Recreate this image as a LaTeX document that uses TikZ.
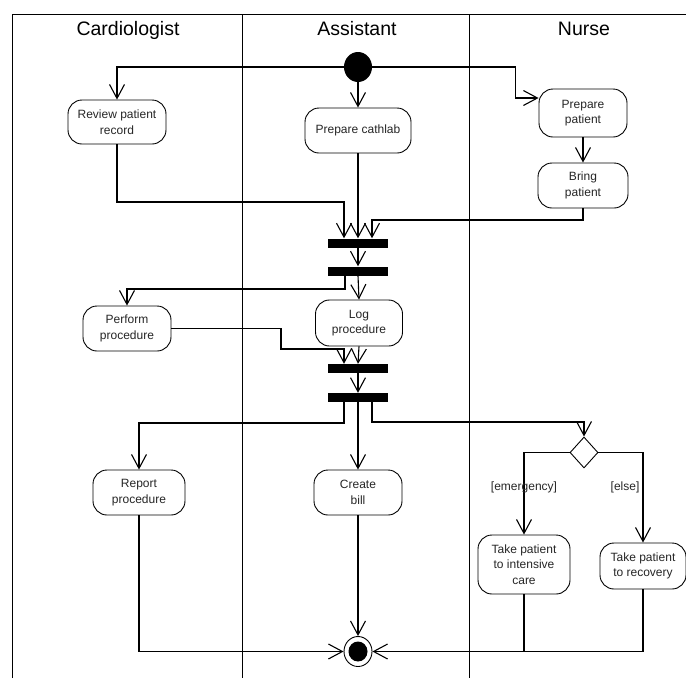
\documentclass[tikz,border=0pt]{standalone}
\usepackage{fontspec}
\setmainfont{Liberation Sans}
\usetikzlibrary{arrows.meta,shapes.geometric,calc}

\begin{document}
\begin{tikzpicture}[x=1pt,y=-1pt,
  lane/.style={line width=0.9pt},
  lanetitle/.style={font=\fontsize{19.5}{24}\selectfont, anchor=base},
  action/.style={draw, line width=0.9pt, rectangle, rounded corners=14pt,
    align=center, inner sep=2pt, font=\fontsize{12}{15.5}\selectfont,
    text=black!85, fill=white},
  syncbar/.style={fill=black, rectangle, minimum width=60pt, minimum height=9pt, inner sep=0pt},
  decision/.style={draw, line width=0.9pt, diamond, minimum width=28pt, minimum height=31pt,
    inner sep=0pt, aspect=0.9, fill=white},
  flow/.style={line width=1.1pt, -{Straight Barb[length=14pt,width=15pt,line width=1.1pt]}},
  plain/.style={line width=1.1pt},
  guard/.style={font=\fontsize{12}{14}\selectfont, text=black!85}
]
\useasboundingbox (0,0) rectangle (686,678);

% swimlanes
\draw[lane] (12,678) -- (12,14) -- (686,14);
\draw[lane] (242,14) -- (242,678);
\draw[lane] (469,14) -- (469,678);
\node[lanetitle] (tcard) at (128,35) {Cardiologist};
\node[lanetitle] (tasst) at (357,35) {Assistant};
\node[lanetitle] (tnurse) at (584,35) {Nurse};

% initial node
\node[ellipse, fill=black, minimum width=28pt, minimum height=30pt, inner sep=0pt] (start) at (358,67) {};

% actions
\node[action, minimum width=98pt, minimum height=44pt] (rev) at (117,122) {Review patient\\record};
\node[action, minimum width=106pt, minimum height=45pt] (cath) at (358,130.5) {Prepare cathlab};
\node[action, minimum width=88pt, minimum height=48pt] (prep) at (583,113) {Prepare\\patient};
\node[action, minimum width=90pt, minimum height=45pt] (bring) at (583,185.5) {Bring\\patient};
\node[action, minimum width=88pt, minimum height=45pt] (perf) at (127,328.5) {Perform\\procedure};
\node[action, minimum width=87pt, minimum height=46pt] (log) at (359,323) {Log\\procedure};
\node[action, minimum width=92pt, minimum height=45pt] (report) at (139,492.5) {Report\\procedure};
\node[action, minimum width=88pt, minimum height=45pt] (bill) at (358,492.5) {Create\\bill};
\node[action, minimum width=92pt, minimum height=59pt] (icu) at (524,564.5) {Take patient\\to intensive\\care};
\node[action, minimum width=86pt, minimum height=46pt] (recov) at (643,566) {Take patient\\to recovery};

% fork / join bars
\node[syncbar] (bar1) at (358,243) {};
\node[syncbar] (bar2) at (358,271) {};
\node[syncbar] (bar3) at (358,368.5) {};
\node[syncbar] (bar4) at (358,397.5) {};

% decision
\node[decision] (dec) at (584,452.5) {};

% final node
\node[ellipse, draw, line width=0.9pt, fill=white, minimum width=28pt, minimum height=30pt, inner sep=0pt] (fin) at (358,651.5) {};
\fill (fin.center) ellipse [x radius=9.5pt, y radius=10pt];

% bend points
\coordinate (k1) at (515.5,67);
\coordinate (b1) at (344,202);
\coordinate (b2) at (372,220);
\coordinate (b3) at (345,289);
\coordinate (b4) at (281,349);
\coordinate (b5) at (344,349);
\coordinate (b6) at (344,423);
\coordinate (b7) at (372,422);

% flows
\draw[flow] (start.west) -| (rev.north);
\draw[flow] (start.south) -- (cath.north);
\draw[flow] (start.east) -- (k1) |- ([yshift=15pt]prep.west);
\draw[flow] (prep.south) -- (bring.north);

\draw[flow] (rev.south) |- (b1) -- (b1 |- bar1.north);
\draw[flow] (cath.south) -- (bar1.north);
\draw[flow] (bring.south) |- (b2) -- (b2 |- bar1.north);
\draw[flow] (bar1.south) -- (bar2.north);

\draw[flow] (bar2.south) -- (log.north);
\draw[flow] (b3 |- bar2.south) -- (b3) -| (perf.north);

\draw[flow] (perf.east) -| (b4) -- (b5) -- (b5 |- bar3.north);
\draw[flow] (log.south) -- (bar3.north);
\draw[flow] (bar3.south) -- (bar4.north);

\draw[flow] (b6 |- bar4.south) -- (b6) -| (report.north);
\draw[flow] (bar4.south) -- (bill.north);
\draw[flow] (b7 |- bar4.south) -- (b7) -| (dec.north);

\draw[flow] (dec.west) -| (icu.north);
\draw[flow] (dec.east) -| (recov.north);
\node[guard] (gemg) at (524,487) {[emergency]};
\node[guard] (gelse) at (625,487) {[else]};

\draw[flow] (report.south) |- (fin.west);
\draw[flow] (bill.south) -- (fin.north);
\draw[flow] (recov.south) |- (fin.east);
\draw[plain] (icu.south) -- (icu.south |- fin.east);
\end{tikzpicture}
\end{document}
